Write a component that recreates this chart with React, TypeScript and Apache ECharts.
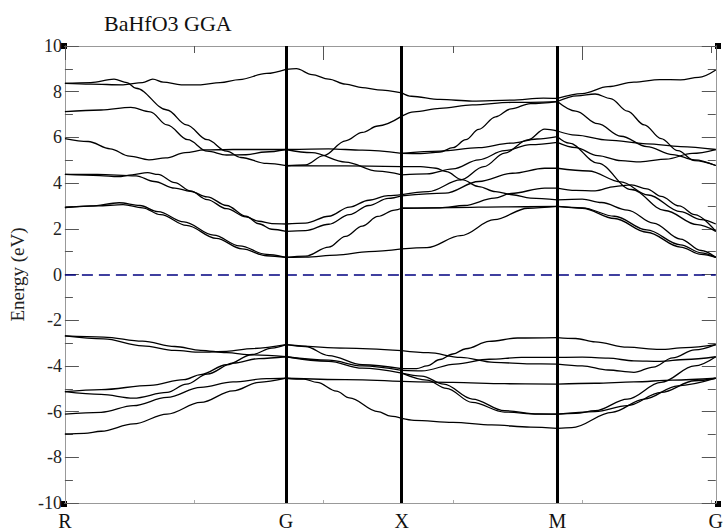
import React, { useEffect, useRef } from 'react';
import * as echarts from 'echarts';

// High-symmetry points along the k-path (path distance units)
const kPoints = [0, 1.71, 2.605, 3.808, 5.033];
const kLabels = ['R', 'G', 'X', 'M', 'G'];

// Energy axis (eV)
const eMin = -10;
const eMax = 10;
const eStep = 2;

// Bands, segment R -> G : [k, E(eV)]
const bandsRG = [
  [[0, 8.36], [0.2, 8.33], [0.45, 8.3], [0.6, 8.4], [0.68, 8.55], [0.76, 8.42], [0.9, 8.3], [1.05, 8.3], [1.2, 8.4], [1.35, 8.53], [1.56, 8.8], [1.71, 8.98]],
  [[0, 8.36], [0.2, 8.4], [0.38, 8.55], [0.48, 8.4], [0.55, 8.15], [0.79, 7.2], [0.94, 6.55], [1.1, 5.9], [1.25, 5.4], [1.36, 5.12], [1.56, 4.86], [1.71, 4.76]],
  [[0, 7.13], [0.28, 7.2], [0.51, 7.31], [0.66, 7.12], [0.79, 6.55], [0.95, 5.9], [1.1, 5.4], [1.25, 5.23], [1.4, 5.24], [1.55, 5.36], [1.71, 5.47]],
  [[0, 5.95], [0.18, 5.82], [0.35, 5.5], [0.5, 5.18], [0.65, 5.02], [0.78, 5.1], [0.93, 5.33], [1.08, 5.45], [1.3, 5.47], [1.71, 5.47]],
  [[0, 4.38], [0.27, 4.33], [0.41, 4.28], [0.52, 4.36], [0.64, 4.46], [0.72, 4.38], [0.85, 4.02], [0.97, 3.66], [1.1, 3.28], [1.25, 2.88], [1.4, 2.52], [1.5, 2.33], [1.6, 2.23], [1.71, 2.21]],
  [[0, 4.38], [0.25, 4.38], [0.55, 4.32], [0.69, 4.07], [0.85, 3.78], [0.97, 3.64], [1.1, 3.4], [1.25, 3.02], [1.4, 2.55], [1.5, 2.22], [1.6, 1.98], [1.71, 1.89]],
  [[0, 2.93], [0.2, 3.0], [0.42, 3.14], [0.58, 3.02], [0.72, 2.75], [0.92, 2.3], [1.15, 1.72], [1.35, 1.25], [1.56, 0.88], [1.71, 0.75]],
  [[0, 2.93], [0.25, 3.0], [0.45, 3.06], [0.6, 2.92], [0.74, 2.62], [0.94, 2.15], [1.17, 1.58], [1.37, 1.12], [1.56, 0.82], [1.71, 0.75]],
  [[0, -2.69], [0.3, -2.74], [0.6, -2.92], [0.85, -3.15], [1.05, -3.32], [1.25, -3.42], [1.45, -3.52], [1.71, -3.6]],
  [[0, -2.69], [0.3, -2.82], [0.6, -3.12], [0.85, -3.32], [1.05, -3.4], [1.25, -3.36], [1.45, -3.24], [1.71, -3.07]],
  [[0, -5.13], [0.28, -5.04], [0.66, -4.85], [0.92, -4.6], [1.05, -4.38], [1.25, -3.95], [1.45, -3.5], [1.6, -3.22], [1.71, -3.07]],
  [[0, -5.13], [0.28, -5.25], [0.53, -5.41], [0.79, -5.16], [0.94, -4.8], [1.1, -4.36], [1.3, -3.88], [1.5, -3.68], [1.71, -3.6]],
  [[0, -6.11], [0.28, -6.03], [0.53, -5.74], [0.79, -5.38], [1.05, -4.94], [1.3, -4.7], [1.56, -4.56], [1.71, -4.54]],
  [[0, -6.98], [0.15, -6.95], [0.28, -6.86], [0.53, -6.54], [0.79, -6.11], [1.05, -5.6], [1.3, -5.09], [1.5, -4.72], [1.71, -4.54]],
];

// Bands, segment G -> X
const bandsGX = [
  [[1.71, 8.98], [1.79, 9.01], [1.91, 8.75], [2.04, 8.55], [2.17, 8.33], [2.3, 8.18], [2.42, 8.08], [2.605, 7.95]],
  [[1.71, 4.76], [1.86, 4.8], [2.0, 5.2], [2.17, 5.85], [2.3, 6.22], [2.42, 6.5], [2.605, 6.93]],
  [[1.71, 5.47], [2.04, 5.5], [2.3, 5.44], [2.605, 5.3]],
  [[1.71, 5.47], [1.91, 5.33], [2.17, 4.92], [2.42, 4.52], [2.605, 4.36]],
  [[1.71, 4.76], [2.17, 4.75], [2.605, 4.72]],
  [[1.71, 0.75], [1.86, 0.76], [2.1, 0.85], [2.35, 1.0], [2.605, 1.12]],
  [[1.71, 0.75], [1.86, 0.8], [2.04, 1.2], [2.17, 1.67], [2.3, 2.12], [2.42, 2.54], [2.55, 2.82], [2.605, 2.9]],
  [[1.71, 1.89], [1.86, 1.92], [2.04, 2.2], [2.2, 2.62], [2.35, 3.02], [2.5, 3.33], [2.605, 3.44]],
  [[1.71, 2.21], [1.86, 2.25], [2.04, 2.55], [2.2, 2.95], [2.35, 3.25], [2.5, 3.45], [2.605, 3.5]],
  [[1.71, -3.07], [2.17, -3.22], [2.605, -3.33]],
  [[1.71, -3.07], [1.86, -3.15], [2.04, -3.55], [2.3, -3.95], [2.605, -4.12]],
  [[1.71, -3.6], [2.04, -3.75], [2.3, -4.0], [2.605, -4.2]],
  [[1.71, -3.6], [2.04, -3.8], [2.3, -4.1], [2.605, -4.32]],
  [[1.71, -4.54], [2.17, -4.6], [2.605, -4.68]],
  [[1.71, -4.54], [1.85, -4.58], [1.95, -4.72], [2.1, -5.1], [2.2, -5.4], [2.42, -6.0], [2.52, -6.2], [2.605, -6.3]],
];

// Bands, segment X -> M
const bandsXM = [
  [[2.605, 7.95], [2.68, 7.8], [2.9, 7.66], [3.15, 7.59], [3.45, 7.63], [3.7, 7.72], [3.808, 7.71]],
  [[2.605, 6.93], [2.7, 7.12], [2.9, 7.27], [3.15, 7.42], [3.45, 7.53], [3.808, 7.57]],
  [[2.605, 5.3], [2.75, 5.29], [2.9, 5.36], [3.0, 5.55], [3.1, 5.9], [3.2, 6.35], [3.33, 6.9], [3.45, 7.25], [3.6, 7.48], [3.808, 7.57]],
  [[2.605, 5.3], [2.9, 5.4], [3.2, 5.55], [3.45, 5.75], [3.65, 5.93], [3.808, 6.03]],
  [[2.605, 4.36], [2.8, 4.4], [3.0, 4.62], [3.2, 5.02], [3.4, 5.42], [3.6, 5.68], [3.808, 5.78]],
  [[2.605, 4.72], [2.75, 4.72], [2.87, 4.65], [2.95, 4.5], [3.07, 4.15], [3.2, 3.85], [3.33, 3.63], [3.46, 3.49], [3.6, 3.34], [3.808, 3.27]],
  [[2.605, 3.5], [2.81, 3.63], [3.06, 4.14], [3.24, 4.72], [3.4, 5.31], [3.58, 5.89], [3.71, 6.36], [3.808, 6.28]],
  [[2.605, 3.44], [2.94, 3.56], [3.2, 4.07], [3.46, 4.43], [3.71, 4.65], [3.808, 4.65]],
  [[2.605, 2.9], [3.0, 2.93], [3.4, 2.96], [3.808, 2.98]],
  [[2.605, 2.9], [2.9, 2.92], [3.09, 3.02], [3.32, 3.34], [3.45, 3.55], [3.71, 3.78], [3.808, 3.78]],
  [[2.605, 1.12], [2.8, 1.18], [3.06, 1.7], [3.32, 2.4], [3.58, 2.9], [3.808, 2.98]],
  [[2.605, -3.33], [2.81, -3.42], [3.06, -3.63], [3.32, -3.85], [3.6, -3.91], [3.808, -3.92]],
  [[2.605, -4.12], [2.72, -4.12], [2.8, -4.0], [2.9, -3.72], [3.0, -3.48], [3.1, -3.25], [3.28, -2.93], [3.5, -2.78], [3.808, -2.76]],
  [[2.605, -4.2], [2.76, -4.22], [3.02, -3.92], [3.28, -3.71], [3.53, -3.63], [3.808, -3.63]],
  [[2.605, -4.32], [2.76, -4.45], [2.93, -4.8], [3.15, -5.45], [3.4, -5.96], [3.66, -6.1], [3.808, -6.11]],
  [[2.605, -4.32], [2.8, -4.62], [2.95, -4.98], [3.15, -5.6], [3.4, -6.02], [3.66, -6.11], [3.808, -6.11]],
  [[2.605, -4.68], [3.0, -4.72], [3.4, -4.78], [3.808, -4.8]],
  [[2.605, -6.3], [2.7, -6.38], [3.0, -6.47], [3.3, -6.58], [3.6, -6.68], [3.808, -6.73]],
];

// Bands, segment M -> G
const bandsMG = [
  [[3.808, 7.71], [4.0, 7.92], [4.2, 8.22], [4.4, 8.42], [4.6, 8.53], [4.76, 8.52], [4.9, 8.63], [5.033, 8.95]],
  [[3.808, 7.57], [3.96, 7.82], [4.1, 7.9], [4.22, 7.7], [4.35, 7.15], [4.48, 6.55], [4.61, 5.95], [4.74, 5.42], [4.87, 4.98], [5.033, 4.77]],
  [[3.808, 7.57], [3.95, 7.15], [4.12, 6.6], [4.3, 6.05], [4.5, 5.6], [4.7, 5.25], [4.87, 5.02], [5.033, 4.77]],
  [[3.808, 6.28], [3.95, 6.1], [4.2, 5.88], [4.5, 5.72], [4.76, 5.6], [5.033, 5.47]],
  [[3.808, 5.78], [3.95, 5.55], [4.12, 5.2], [4.3, 4.98], [4.45, 4.93], [4.65, 5.05], [4.85, 5.3], [5.033, 5.47]],
  [[3.808, 6.03], [3.9, 5.75], [4.12, 4.87], [4.38, 3.72], [4.64, 2.8], [4.89, 2.18], [5.033, 1.89]],
  [[3.808, 3.78], [3.95, 3.68], [4.1, 3.66], [4.25, 3.85], [4.38, 3.92], [4.5, 3.75], [4.61, 3.42], [4.75, 3.0], [4.87, 2.62], [5.033, 1.89]],
  [[3.808, 4.65], [4.05, 4.53], [4.3, 4.05], [4.51, 3.48], [4.76, 2.75], [4.92, 2.4], [5.033, 2.21]],
  [[3.808, 3.27], [4.0, 3.3], [4.15, 3.15], [4.35, 2.82], [4.55, 2.25], [4.76, 1.55], [4.92, 1.05], [5.033, 0.75]],
  [[3.808, 2.98], [4.0, 2.92], [4.25, 2.55], [4.5, 1.95], [4.76, 1.3], [4.92, 0.95], [5.033, 0.75]],
  [[3.808, 2.98], [4.0, 2.9], [4.25, 2.45], [4.5, 1.85], [4.76, 1.2], [4.92, 0.88], [5.033, 0.75]],
  [[3.808, -2.76], [3.95, -2.8], [4.1, -2.95], [4.35, -3.18], [4.6, -3.28], [4.8, -3.2], [5.033, -3.07]],
  [[3.808, -3.63], [4.0, -3.62], [4.2, -3.66], [4.4, -3.78], [4.6, -3.8], [4.8, -3.72], [5.033, -3.6]],
  [[3.808, -3.92], [4.0, -4.0], [4.2, -4.18], [4.4, -4.28], [4.55, -4.05], [4.7, -3.65], [4.87, -3.3], [5.033, -3.07]],
  [[3.808, -4.8], [4.1, -4.76], [4.4, -4.7], [4.7, -4.62], [5.033, -4.54]],
  [[3.808, -6.11], [3.95, -6.08], [4.1, -5.96], [4.35, -5.45], [4.61, -4.72], [4.87, -4.0], [5.033, -3.6]],
  [[3.808, -6.11], [4.1, -6.0], [4.35, -5.74], [4.61, -5.16], [4.87, -4.65], [5.033, -4.54]],
  [[3.808, -6.73], [3.92, -6.7], [4.23, -6.03], [4.48, -5.45], [4.74, -4.87], [5.033, -4.54]],
];

const serif = 'Liberation Serif';

export default function App() {
  const ref = useRef<HTMLDivElement>(null);

  useEffect(() => {
    document.body.style.margin = '0';
    const chart = echarts.init(ref.current as HTMLDivElement, null, { renderer: 'svg' });
    const curves = [...bandsRG, ...bandsGX, ...bandsXM, ...bandsMG];
    const series: any[] = curves.map((c) => ({
      type: 'line',
      data: c,
      xAxisIndex: 0,
      yAxisIndex: 0,
      showSymbol: false,
      symbol: 'none',
      smooth: 0.35,
      smoothMonotone: 'x',
      silent: true,
      z: 3,
      lineStyle: { color: '#000', width: 1.3 },
    }));
    series.push({
      type: 'line',
      data: [[0, 0]],
      xAxisIndex: 0,
      yAxisIndex: 0,
      symbol: 'none',
      silent: true,
      z: 5,
      lineStyle: { width: 0 },
      markLine: {
        symbol: 'none',
        silent: true,
        animation: false,
        label: { show: false },
        data: [
          { yAxis: 0, lineStyle: { color: '#000080', width: 1.6, type: [11, 6] } },
          ...kPoints.slice(1, 4).map((k) => ({ xAxis: k, lineStyle: { color: '#000', width: 3, type: 'solid' } })),
        ],
      },
    });

    const frame = { show: true, onZero: false, lineStyle: { color: '#999', width: 1 } };
    const tickStyle = { color: '#555', width: 1 };

    chart.setOption({
      animation: false,
      backgroundColor: '#fff',
      textStyle: { fontFamily: serif },
      title: {
        text: 'BaHfO3 GGA',
        left: 99,
        top: 7,
        textStyle: { fontFamily: serif, fontSize: 22, fontWeight: 'normal', color: '#111' },
      },
      grid: { left: 64, right: 8, top: 46, bottom: 27, containLabel: false },
      xAxis: [
        {
          type: 'value',
          position: 'bottom',
          min: 0,
          max: kPoints[kPoints.length - 1],
          interval: 1,
          axisLine: frame,
          axisTick: { show: true, inside: true, length: 3, lineStyle: { color: '#aaa' } },
          axisLabel: {
            customValues: kPoints,
            showMaxLabel: true,
            showMinLabel: true,
            margin: 8,
            fontFamily: serif,
            fontSize: 20,
            color: '#111',
            formatter: (v: number) => {
              let best = 0;
              kPoints.forEach((k, i) => {
                if (Math.abs(k - v) < Math.abs(kPoints[best] - v)) best = i;
              });
              return kLabels[best];
            },
          },
          splitLine: { show: false },
        },
        {
          type: 'value',
          position: 'top',
          min: 0,
          max: kPoints[kPoints.length - 1],
          interval: 2,
          axisLine: frame,
          axisTick: { show: true, inside: true, length: 14, lineStyle: tickStyle },
          minorTick: { show: true, splitNumber: 2, length: 7, lineStyle: tickStyle },
          axisLabel: { show: false },
          splitLine: { show: false },
        },
      ],
      yAxis: [
        {
          type: 'value',
          position: 'left',
          min: eMin,
          max: eMax,
          interval: eStep,
          name: 'Energy (eV)',
          nameLocation: 'middle',
          nameGap: 36,
          nameTextStyle: { fontFamily: serif, fontSize: 19, color: '#222' },
          axisLine: frame,
          axisTick: { show: true, inside: true, length: 14, lineStyle: tickStyle },
          minorTick: { show: true, splitNumber: 2, length: 8, lineStyle: tickStyle },
          axisLabel: { margin: 3, fontFamily: serif, fontSize: 18, color: '#222' },
          splitLine: { show: false },
        },
        {
          type: 'value',
          position: 'right',
          min: eMin,
          max: eMax,
          interval: eStep,
          axisLine: frame,
          axisTick: { show: true, inside: true, length: 14, lineStyle: tickStyle },
          minorTick: { show: true, splitNumber: 2, length: 8, lineStyle: tickStyle },
          axisLabel: { show: false },
          splitLine: { show: false },
        },
      ],
      graphic: [
        { type: 'rect', shape: { x: 61, y: 43, width: 6, height: 6 }, style: { fill: '#000' }, silent: true },
        { type: 'rect', shape: { x: 715, y: 43, width: 6, height: 6 }, style: { fill: '#000' }, silent: true },
        { type: 'rect', shape: { x: 61, y: 501, width: 6, height: 6 }, style: { fill: '#000' }, silent: true },
        { type: 'rect', shape: { x: 715, y: 501, width: 6, height: 6 }, style: { fill: '#000' }, silent: true },
      ],
      series,
    });

    return () => chart.dispose();
  }, []);

  return <div ref={ref} style={{ width: 726, height: 531 }} />;
}
